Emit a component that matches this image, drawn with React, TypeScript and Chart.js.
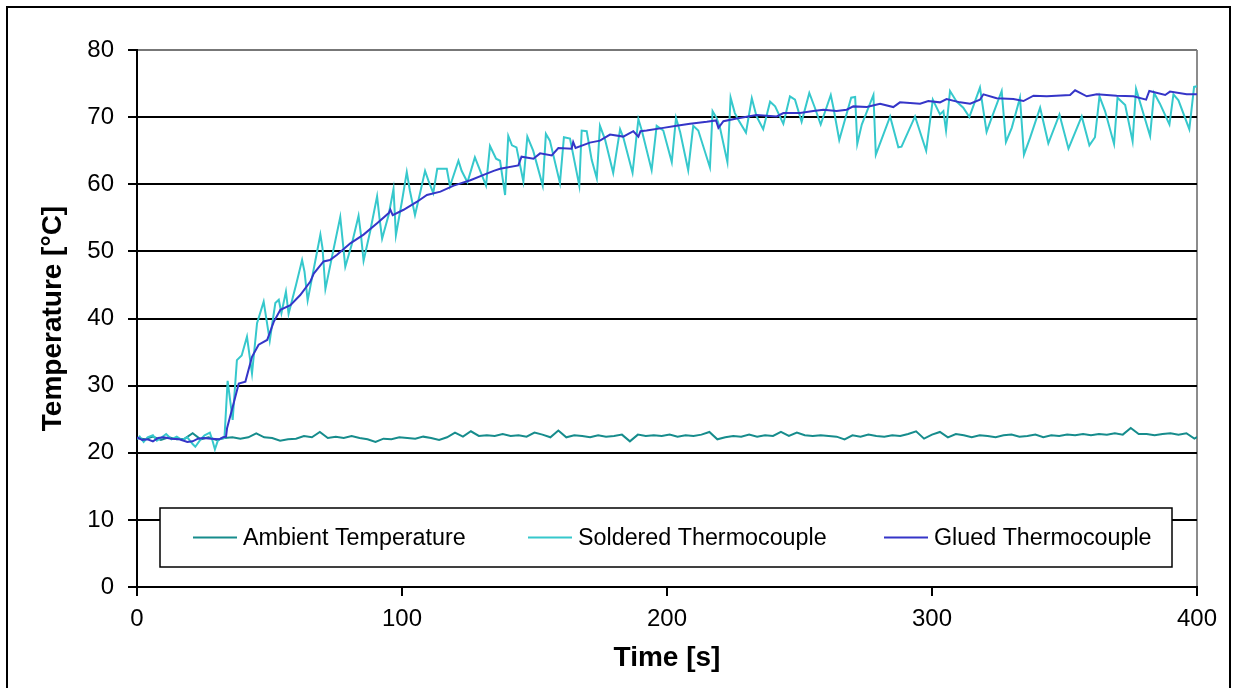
import React, { useEffect, useRef } from 'react';
import { Chart, registerables } from 'chart.js';

Chart.register(...registerables);

const FONT = '"Liberation Sans", Arial, Helvetica, sans-serif';

const seriesLabels = ['Ambient Temperature', 'Soldered Thermocouple', 'Glued Thermocouple'];
const seriesColors = ['#168c8c', '#36c8cc', '#3535c8'];

const xTicks = [0, 100, 200, 300, 400];
const yTicks = [0, 10, 20, 30, 40, 50, 60, 70, 80];

// Ambient temperature sampled every AMBIENT_STEP seconds
const AMBIENT_STEP = 3;
const ambientTemp = [
  22.2, 22.0, 22.4, 21.9, 22.3, 22.0, 22.1, 22.9, 22.0, 22.3,
  21.9, 22.2, 22.3, 22.1, 22.3, 22.9, 22.3, 22.2, 21.8, 22.0,
  22.1, 22.5, 22.3, 23.1, 22.2, 22.4, 22.2, 22.5, 22.2, 22.0,
  21.6, 22.1, 22.0, 22.3, 22.2, 22.1, 22.4, 22.2, 21.9, 22.3,
  23.0, 22.4, 23.2, 22.5, 22.6, 22.5, 22.8, 22.5, 22.6, 22.4,
  23.0, 22.7, 22.3, 23.3, 22.3, 22.6, 22.5, 22.3, 22.6, 22.4,
  22.5, 22.7, 21.7, 22.7, 22.5, 22.6, 22.5, 22.7, 22.4, 22.6,
  22.5, 22.7, 23.1, 22.0, 22.3, 22.5, 22.4, 22.7, 22.4, 22.6,
  22.5, 23.1, 22.5, 23.0, 22.6, 22.5, 22.6, 22.5, 22.4, 22.0,
  22.6, 22.4, 22.7, 22.5, 22.4, 22.6, 22.5, 22.8, 23.2, 22.1,
  22.7, 23.1, 22.3, 22.8, 22.6, 22.3, 22.6, 22.5, 22.3, 22.6,
  22.7, 22.4, 22.5, 22.7, 22.3, 22.6, 22.5, 22.7, 22.6, 22.8,
  22.6, 22.8, 22.7, 22.9, 22.7, 23.7, 22.8, 22.8, 22.6, 22.8,
  22.9, 22.7, 22.9, 22.1, 22.8,
];

const solderedTime = [
  0, 1, 2.5, 4, 6, 7.5, 9, 11, 13, 15, 17, 19, 21, 22, 24, 25.5, 27.5, 28.5, 29.4, 30.5, 31.5, 33,
  34.2, 36.1, 37.7, 39.5, 41.5, 43.4, 45.3, 47.8, 50.1, 52.2, 53.5, 54.5, 56.2, 57.2, 60, 62.3, 63.2, 64.4,
  67, 69.2, 70, 71.1, 74, 76.7, 77.5, 78.6, 81, 83.6, 84.5, 85.5, 88, 90.6, 91.5, 92.5, 95, 96.8, 97.7,
  100, 101.8, 103, 104.9, 107, 108.7, 110, 111.8, 113.3, 116.9, 118.1, 121.3, 122.5, 124.7, 127.5, 129,
  131.7, 133.2, 135.5, 137, 138.9, 140.1, 141.5, 143.2, 145.8, 147.3, 149.5, 153.1, 154.3, 155.8, 159.6,
  161.1, 163.4, 166.9, 167.8, 169.7, 171.6, 173.5, 174.7, 176.6, 179.7, 182.3, 183.5, 187.0, 189.2, 190.5,
  194.2, 196.1, 198.6, 201.8, 203.4, 205, 208.0, 209.9, 211.8, 216.2, 217.2, 218.7, 220, 222.8, 224.0,
  225.6, 226.9, 229.8, 232.0, 233.8, 236.3, 238.9, 240.8, 243.9, 246.4, 248.3, 250.8, 253.7, 255.8, 258.0,
  261.8, 262.8, 265.0, 269.5, 271, 271.8, 273.5, 277.9, 278.8, 284.2, 287.3, 288.5, 293.6, 297.8, 300.3,
  303, 304.3, 305.3, 306.8, 309.3, 311.8, 314.1, 318.1, 320.6, 322.5, 326.3, 327.9, 330.1, 333.2, 334.7,
  337, 340.8, 343.9, 348.1, 351.5, 356.5, 359.4, 361.5, 363.2, 365.3, 368.7, 370.0, 372.9, 375.7, 377.0,
  382.3, 383.8, 386, 389.6, 391.1, 393, 397.1, 398.9, 400,
];
const solderedTemp = [
  22.0, 22.4, 21.6, 22.3, 22.6, 21.8, 22.2, 22.8, 22.0, 22.4, 21.9, 22.3, 21.3, 20.9, 22.0, 22.6, 23.0, 21.8, 20.5, 21.8, 22.1, 22.2,
  30.7, 24.9, 33.8, 34.5, 37.3, 31.8, 39.3, 42.5, 36.7, 42.3, 42.8, 40.8, 44.0, 40.7, 45.0, 48.7, 47.0, 42.7,
  48.0, 52.5, 50.5, 44.4, 50.0, 55.1, 52.0, 47.7, 51.0, 55.3, 52.5, 48.6, 53.0, 58.2, 55.0, 51.9, 55.5, 59.3, 52.4,
  57.5, 61.8, 59.0, 55.4, 59.0, 62.0, 60.5, 58.7, 62.3, 62.3, 59.7, 63.5, 62.0, 60.3, 64.0, 62.5,
  59.8, 65.7, 63.8, 63.5, 58.4, 67.2, 65.8, 65.5, 60.4, 67.1, 65.0, 59.8, 67.5, 66.5, 60.2,
  67.0, 66.8, 59.8, 68.0, 67.9, 63.6, 60.9, 68.7, 66.7, 61.7, 68.2, 67.0, 61.7, 69.7, 68.0,
  62.1, 68.7, 68.0, 63.3, 69.9, 67.7, 62.1, 68.7, 68.0, 62.5, 70.9, 69.9, 68.4, 63.3, 72.9,
  70.6, 69.6, 67.7, 72.8, 70.1, 68.2, 72.3, 71.6, 69.0, 73.1, 72.6, 69.3, 73.6, 71.4, 68.9,
  73.3, 71.4, 66.6, 72.9, 73.0, 66.0, 68.9, 73.3, 64.4, 70.1, 65.5, 65.6, 70.1, 65.0, 72.6,
  70.4, 70.9, 68.0, 73.9, 72.3, 71.4, 70.0, 74.4, 67.8, 69.9, 73.9, 66.3, 68.4, 72.9, 64.4,
  66.9, 71.4, 66.1, 70.4, 65.3, 70.1, 65.8, 67.0, 73.1, 70.9, 66.0, 72.9, 71.8, 66.4, 74.2,
  67.2, 73.6, 72.0, 68.9, 73.4, 72.5, 68.2, 74.5, 74.6,
];

const gluedTime = [
  0, 2, 4, 6, 8, 10, 13, 16, 19, 21, 23, 25, 28, 31, 32.5, 33.6,
  34, 36.5, 38.4, 40.9, 43.4, 45.9, 49.1, 51.6, 54.1, 57.9, 61.6, 65.4, 66.7, 70.4, 72.8, 75.5,
  80.5, 85.5, 90.6, 95, 95.6, 96.5, 100.6, 105.7, 109.4, 114.5, 119.5, 125.8, 130.8, 134.6, 137,
  143.9, 145.1, 149.6, 152.1, 156.5, 159, 164, 164.6, 165.5, 170.9, 174.7, 178.5, 183.5, 187.3, 189.2,
  190, 192.3, 198.6, 203.6, 208.7, 215, 218.5, 219.4, 221.3, 226.3, 233.8, 241.4, 243.9, 250.2, 255.2,
  259, 264, 267.8, 270.3, 275.4, 280.4, 285.4, 287.9, 295.5, 298.6, 303, 305.5, 310.6, 314.4, 318.1,
  319.4, 324.4, 330.7, 334.5, 338.3, 343.3, 352.1, 354, 358.4, 362.2, 369.7, 376, 380.8, 382, 388,
  389.8, 396.1, 400,
];
const gluedTemp = [
  22.3, 21.9, 22.0, 21.7, 22.2, 22.3, 22.1, 22.0, 21.6, 21.7, 22.1, 22.2, 22.1, 22.0, 22.3, 22.4,
  23.7, 27.4, 30.3, 30.6, 34.3, 36.1, 36.8, 39.5, 41.3, 42.0, 43.5, 45.5, 46.7, 48.5, 48.7, 49.5,
  51.2, 52.5, 54.2, 55.7, 56.2, 55.4, 56.2, 57.4, 58.4, 58.9, 59.8, 60.6, 61.4, 62.0, 62.3,
  62.8, 64.1, 63.8, 64.6, 64.3, 65.4, 65.3, 66.3, 65.4, 66.2, 66.5, 67.4, 67.1, 67.9, 67.1,
  67.9, 68.0, 68.4, 68.7, 69.0, 69.3, 69.5, 68.4, 69.4, 69.8, 70.3, 70.1, 70.6, 70.6, 70.9,
  71.1, 70.9, 71.1, 71.6, 71.5, 72.0, 71.5, 72.2, 72.0, 72.4, 72.2, 72.7, 72.2, 72.0, 72.6,
  73.4, 72.8, 72.7, 72.4, 73.2, 73.1, 73.3, 74.0, 73.1, 73.4, 73.2, 73.1, 72.6, 73.9, 73.3,
  73.8, 73.4, 73.4,
];

const toPoints = (xs: number[], ys: number[]) => ys.map((y, i) => ({ x: xs[i], y }));

const framePlugin = {
  id: 'outerFrame',
  beforeDraw(chart: any) {
    const ctx = chart.ctx;
    ctx.save();
    ctx.fillStyle = '#fff';
    ctx.fillRect(0, 0, chart.width, chart.height);
    ctx.strokeStyle = '#000';
    ctx.lineWidth = 2;
    ctx.strokeRect(7, 7, chart.width - 14, chart.height + 20);
    ctx.restore();
  },
};

const boxLegendPlugin = {
  id: 'boxLegend',
  afterDatasetsDraw(chart: any) {
    const { ctx, chartArea: ca } = chart;
    const left = ca.left + 23;
    const top = ca.top + 458;
    const right = ca.right - 25;
    const bottom = ca.top + 517;
    ctx.save();
    ctx.fillStyle = '#fff';
    ctx.fillRect(left, top, right - left, bottom - top);
    ctx.strokeStyle = '#000';
    ctx.lineWidth = 1.5;
    ctx.strokeRect(left, top, right - left, bottom - top);
    const starts = [56, 391, 747];
    const cy = (top + bottom) / 2;
    ctx.font = `23.3px ${FONT}`;
    ctx.textBaseline = 'middle';
    ctx.textAlign = 'left';
    chart.data.datasets.forEach((ds: any, i: number) => {
      const x0 = ca.left + starts[i];
      ctx.strokeStyle = ds.borderColor;
      ctx.lineWidth = 2;
      ctx.beginPath();
      ctx.moveTo(x0, cy);
      ctx.lineTo(x0 + 44, cy);
      ctx.stroke();
      ctx.fillStyle = '#000';
      ctx.fillText(ds.label, x0 + 50, cy + 1);
    });
    ctx.restore();
  },
};

export default function App() {
  const ref = useRef<HTMLCanvasElement>(null);
  useEffect(() => {
    document.body.style.margin = '0';
    const chart = new Chart(ref.current as HTMLCanvasElement, {
      type: 'line',
      data: {
        datasets: [
          {
            label: seriesLabels[0],
            data: ambientTemp.map((y, i) => ({ x: i * AMBIENT_STEP, y })),
            borderColor: seriesColors[0],
            borderWidth: 2,
            pointRadius: 0,
            order: 3,
          },
          {
            label: seriesLabels[1],
            data: toPoints(solderedTime, solderedTemp),
            borderColor: seriesColors[1],
            borderWidth: 2,
            pointRadius: 0,
            order: 2,
          },
          {
            label: seriesLabels[2],
            data: toPoints(gluedTime, gluedTemp),
            borderColor: seriesColors[2],
            borderWidth: 2,
            pointRadius: 0,
            order: 1,
          },
        ] as any,
      },
      options: {
        responsive: false,
        animation: false,
        devicePixelRatio: 1,
        parsing: false as any,
        layout: { padding: { top: 50, right: 40, left: 0, bottom: 0 } },
        plugins: {
          legend: { display: false },
          tooltip: { enabled: false },
        },
        scales: {
          x: {
            type: 'linear',
            min: xTicks[0],
            max: xTicks[xTicks.length - 1],
            afterBuildTicks: (s: any) => {
              s.ticks = xTicks.map((v) => ({ value: v }));
            },
            ticks: {
              color: '#000',
              font: { family: FONT, size: 24 },
              padding: 9,
              maxRotation: 0,
              autoSkip: false,
            },
            grid: {
              color: (c: any) => (c.tick && c.tick.value === 400 ? '#8c8c8c' : 'rgba(0,0,0,0)'),
              lineWidth: 2,
              tickLength: 9,
              tickColor: '#000',
              tickWidth: 2,
            },
            border: { color: '#000', width: 2 },
            title: {
              display: true,
              text: 'Time [s]',
              color: '#000',
              font: { family: FONT, size: 28, weight: 'bold' },
              padding: { top: 0, bottom: 13 },
            },
            afterFit: (s: any) => {
              s.height = 101;
            },
          } as any,
          y: {
            type: 'linear',
            min: yTicks[0],
            max: yTicks[yTicks.length - 1],
            afterBuildTicks: (s: any) => {
              s.ticks = yTicks.map((v) => ({ value: v }));
            },
            ticks: {
              color: '#000',
              font: { family: FONT, size: 24 },
              padding: 14,
              autoSkip: false,
            },
            grid: {
              color: (c: any) => (c.tick && c.tick.value === 80 ? '#777' : '#000'),
              lineWidth: 2,
              tickLength: 9,
              tickColor: '#000',
              tickWidth: 2,
            },
            border: { color: '#000', width: 2 },
            title: {
              display: true,
              text: 'Temperature [°C]',
              color: '#000',
              font: { family: FONT, size: 28, weight: 'bold' },
              padding: { top: 36, bottom: 0 },
            },
            afterFit: (s: any) => {
              s.width = 137;
            },
          } as any,
        },
      },
      plugins: [framePlugin, boxLegendPlugin],
    });
    return () => chart.destroy();
  }, []);
  return (
    <div style={{ width: 1237, height: 688 }}>
      <canvas ref={ref} width={1237} height={688} style={{ display: 'block' }} />
    </div>
  );
}
